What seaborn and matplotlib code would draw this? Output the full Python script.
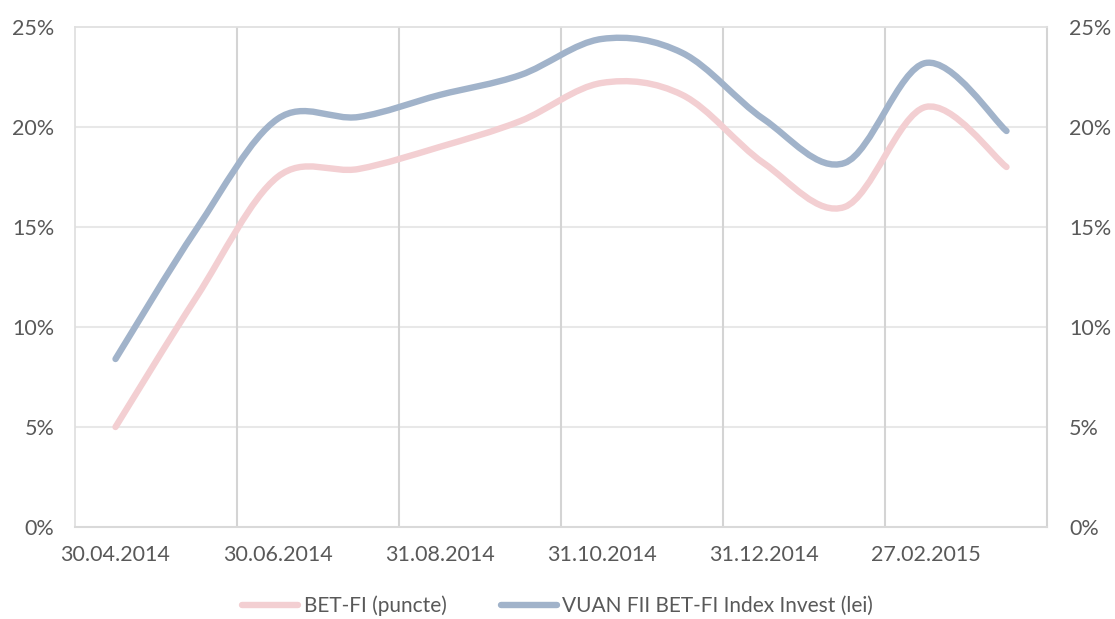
import numpy as np
import seaborn as sns
import matplotlib.pyplot as plt
from matplotlib.path import Path
from matplotlib.patches import PathPatch
from matplotlib.lines import Line2D

# date de sfarsit de luna
dates = ["30.04.2014", "30.05.2014", "30.06.2014", "31.07.2014", "31.08.2014", "30.09.2014",
         "31.10.2014", "30.11.2014", "31.12.2014", "31.01.2015", "27.02.2015", "31.03.2015"]
bet_fi = [5.0, 11.5, 17.5, 17.9, 19.0, 20.3, 22.2, 21.6, 18.2, 16.0, 21.0, 18.0]
vuan = [8.4, 14.9, 20.4, 20.5, 21.6, 22.6, 24.4, 23.7, 20.4, 18.2, 23.2, 19.8]
series_names = ["BET-FI (puncte)", "VUAN FII BET-FI Index Invest (lei)"]
series_colors = ["#f3cfd2", "#a1b3ca"]
y_ticks = [0, 5, 10, 15, 20, 25]

sns.set_style("white")
plt.rcParams['font.family'] = ['Lato', 'DejaVu Sans']
text_color = "#595959"


def curba_neteda(xs, ys):
    # linie netezita ca in Excel (bezier prin puncte)
    pts = np.column_stack([xs, ys]).astype(float)
    n = len(pts)
    verts = [pts[0]]
    codes = [Path.MOVETO]
    for i in range(n - 1):
        p0 = pts[i - 1] if i > 0 else pts[i]
        p3 = pts[i + 2] if i + 2 < n else pts[i + 1]
        c1 = pts[i] + (pts[i + 1] - p0) / 6
        c2 = pts[i + 1] - (p3 - pts[i]) / 6
        verts += [c1, c2, pts[i + 1]]
        codes += [Path.CURVE4] * 3
    return Path(verts, codes)


fig = plt.figure(figsize=(11.15, 6.19), dpi=100)
ax = fig.add_axes([75 / 1115, 1 - 527 / 619, 972 / 1115, 500 / 619])

x = np.arange(len(dates))
for vals, col in zip([bet_fi, vuan], series_colors):
    ax.add_patch(PathPatch(curba_neteda(x, vals), facecolor="none", edgecolor=col,
                           lw=4.6, capstyle="round", joinstyle="round", zorder=3))

ax.set_xlim(-0.5, len(dates) - 0.5)
ax.set_ylim(0, 25)

for v in y_ticks[1:-1]:
    ax.axhline(v, color="#e8e8e8", lw=1.5, zorder=1)
for v in np.arange(1.5, len(dates) - 1, 2):
    ax.axvline(v, color="#d4d4d4", lw=1.5, zorder=1)

for side in ["top", "left"]:
    ax.spines[side].set_color("#e0e0e0")
    ax.spines[side].set_linestyle((0, (1, 1)))
    ax.spines[side].set_linewidth(1.3)
ax.spines["bottom"].set_color("#d9d9d9")
ax.spines["bottom"].set_linewidth(1.5)
ax.spines["right"].set_color("#d4d4d4")
ax.spines["right"].set_linewidth(1.5)

ax.set_xticks(x[::2])
ax.set_xticklabels(dates[::2])
ax.set_yticks(y_ticks)
ax.set_yticklabels([f"{v}%" for v in y_ticks])
ax.tick_params(axis="both", length=0, labelsize=15.5, colors=text_color)
ax.tick_params(axis="x", pad=13)
ax.tick_params(axis="y", pad=15)

ax2 = ax.twinx()
ax2.set_ylim(0, 25)
ax2.set_yticks(y_ticks)
ax2.set_yticklabels([f"{v}%" for v in y_ticks])
ax2.tick_params(axis="y", length=0, labelsize=15.5, colors=text_color, pad=16)
for s in ax2.spines.values():
    s.set_visible(False)

handles = [Line2D([], [], color=c, lw=4.6) for c in series_colors]
fig.legend(handles, series_names, loc="center", bbox_to_anchor=(0.5, 1 - 606 / 619),
           ncol=2, frameon=False, fontsize=15, labelcolor=text_color,
           handlelength=2.7, handletextpad=0.25, columnspacing=2.6,
           borderpad=0.1)

plt.savefig("out.png", dpi=100)
plt.close()
